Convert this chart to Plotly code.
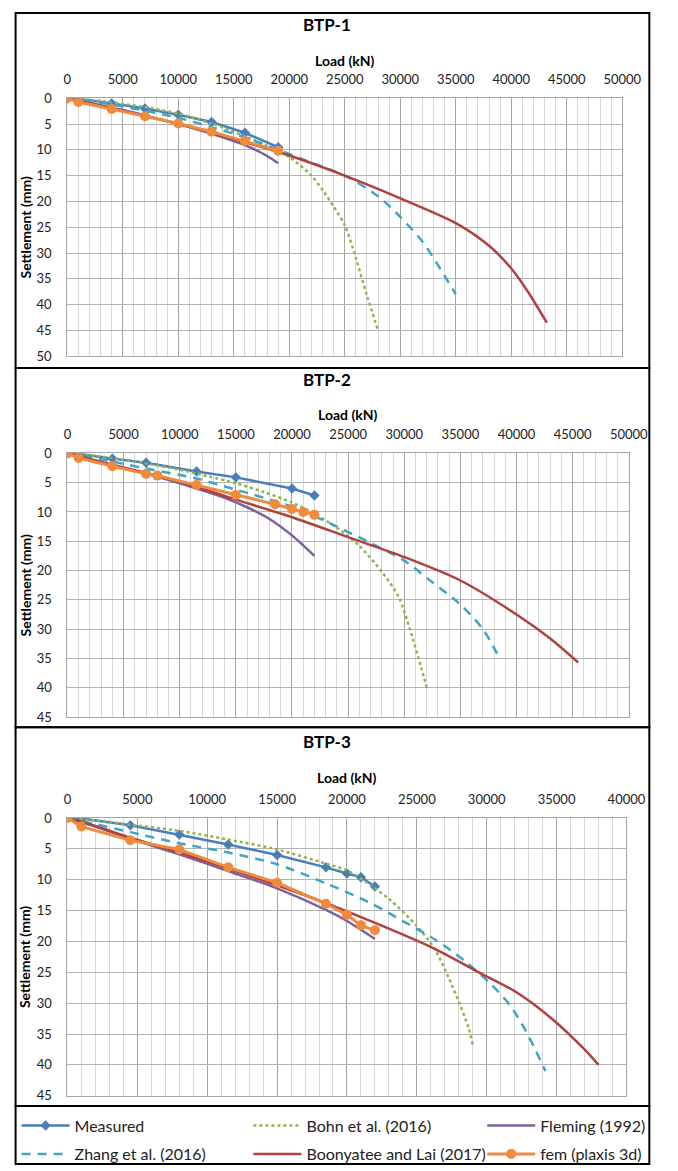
import plotly.graph_objects as go

W, H = 678, 1171
FONT = "Lato"

# ---------------- data ----------------
series_names = ["Measured", "Bohn et al. (2016)", "Fleming (1992)",
                "Zhang et al. (2016)", "Boonyatee and Lai (2017)", "fem (plaxis 3d)"]
panel_titles = ["BTP-1", "BTP-2", "BTP-3"]
x_max = [50000, 50000, 40000]
y_max = [50, 45, 45]

# BTP-1
meas1_x = [0, 1000, 4000, 7000, 10000, 13000, 16000, 19000]
meas1_y = [0, 0.1, 1.0, 2.0, 3.2, 4.6, 6.7, 9.5]
bohn1_x = [0, 2500, 5000, 7500, 10000, 13000, 16000, 18000, 20000, 22000, 23000, 24000, 25000, 26000, 27000, 28000]
bohn1_y = [0, 0.4, 1.1, 1.9, 3.0, 4.9, 7.4, 9.2, 11.4, 15.0, 17.8, 21.0, 24.6, 31.0, 38.3, 45.0]
flem1_x = [0, 2000, 5000, 8000, 11000, 14000, 16000, 18000, 19000]
flem1_y = [0, 0.9, 2.3, 3.9, 5.6, 7.6, 9.1, 11.2, 12.6]
zhang1_x = [0, 2500, 5000, 10000, 13000, 16000, 19000, 22000, 25000, 28000, 30000, 32000, 33500, 35000]
zhang1_y = [0, 0.7, 1.6, 3.8, 5.6, 7.6, 10.0, 12.5, 15.0, 19.0, 23.0, 27.8, 32.7, 38.0]
boon1_x = [0, 5000, 10000, 15000, 20000, 25000, 30000, 35000, 38000, 40000, 41500, 43200]
boon1_y = [0, 2.4, 5.0, 7.9, 11.1, 15.0, 19.4, 24.2, 28.6, 33.0, 37.5, 43.5]
fem1_x = [0, 1000, 4000, 7000, 10000, 13000, 16000, 19000]
fem1_y = [0, 0.75, 2.1, 3.5, 4.9, 6.5, 8.3, 10.2]

# BTP-2
meas2_x = [0, 1000, 4000, 7000, 11500, 15000, 20000, 22000]
meas2_y = [0, 0.1, 0.9, 1.6, 3.1, 4.1, 6.0, 7.2]
bohn2_x = [0, 2500, 5000, 7500, 10000, 12500, 15000, 17500, 20000, 22000, 24000, 26000, 28000, 29500, 30500, 31500, 32000]
bohn2_y = [0, 0.4, 1.1, 1.9, 2.8, 3.9, 5.1, 6.6, 8.4, 10.3, 12.7, 15.8, 20.2, 24.5, 30.0, 36.5, 40.0]
flem2_x = [0, 2000, 4000, 7000, 10000, 12000, 14000, 16000, 18000, 20000, 21000, 22000]
flem2_y = [0, 1.0, 2.1, 3.5, 5.1, 6.3, 7.6, 9.2, 11.2, 14.0, 15.7, 17.5]
zhang2_x = [0, 2000, 5000, 7000, 11500, 15000, 20000, 23000, 27000, 30000, 32500, 35000, 37000, 38500]
zhang2_y = [0, 0.6, 1.8, 2.6, 4.3, 6.2, 9.1, 11.6, 15.3, 18.3, 22.0, 25.8, 30.0, 35.0]
boon2_x = [0, 5000, 10000, 15000, 20000, 25000, 30000, 35000, 40000, 43000, 45500]
boon2_y = [0, 2.4, 4.8, 7.9, 10.9, 14.3, 17.7, 21.7, 27.5, 31.6, 35.7]
fem2_x = [0, 1000, 4000, 7000, 8000, 11500, 15000, 18500, 20000, 21000, 22000]
fem2_y = [0, 0.8, 2.2, 3.5, 3.8, 5.4, 7.1, 8.7, 9.5, 10.0, 10.5]

# BTP-3
meas3_x = [0, 1000, 4500, 8000, 11500, 15000, 18500, 20000, 21000, 22000]
meas3_y = [0, 0.1, 1.2, 2.7, 4.3, 6.0, 8.0, 9.0, 9.6, 11.1]
bohn3_x = [0, 2000, 4500, 8000, 11500, 15000, 18500, 20000, 21700, 23100, 25000, 26300, 27300, 28100, 28700, 29000]
bohn3_y = [0, 0.4, 1.1, 2.1, 3.5, 5.1, 7.4, 8.5, 10.9, 13.3, 17.5, 21.3, 26.0, 30.3, 34.0, 36.7]
flem3_x = [0, 2000, 4500, 8000, 11500, 15000, 18500, 20000, 22000]
flem3_y = [0, 1.4, 3.4, 5.9, 8.6, 11.4, 14.9, 16.7, 19.6]
zhang3_x = [0, 2000, 4500, 8000, 11500, 15000, 18500, 21700, 24000, 26300, 28400, 30250, 31650, 32800, 34200]
zhang3_y = [0, 1.0, 2.3, 4.1, 5.6, 7.5, 10.6, 13.8, 16.7, 19.7, 23.1, 26.8, 30.3, 34.5, 41.0]
boon3_x = [0, 2000, 4500, 8000, 11500, 15000, 18500, 21700, 26100, 29600, 32100, 34600, 37000, 38000]
boon3_y = [0, 1.3, 3.2, 5.6, 8.2, 10.9, 13.8, 16.7, 21.0, 25.2, 28.2, 32.4, 37.5, 40.0]
fem3_x = [0, 1000, 4500, 8000, 11500, 15000, 18500, 20000, 21000, 22000]
fem3_y = [0, 1.4, 3.6, 5.1, 8.0, 10.5, 13.9, 15.7, 17.4, 18.2]

panels_data = [
    [(meas1_x, meas1_y), (bohn1_x, bohn1_y), (flem1_x, flem1_y), (zhang1_x, zhang1_y), (boon1_x, boon1_y), (fem1_x, fem1_y)],
    [(meas2_x, meas2_y), (bohn2_x, bohn2_y), (flem2_x, flem2_y), (zhang2_x, zhang2_y), (boon2_x, boon2_y), (fem2_x, fem2_y)],
    [(meas3_x, meas3_y), (bohn3_x, bohn3_y), (flem3_x, flem3_y), (zhang3_x, zhang3_y), (boon3_x, boon3_y), (fem3_x, fem3_y)],
]

# ---------------- styles ----------------
styles = [
    dict(mode="lines+markers", line=dict(color="#4A7EBB", width=2.5),
         marker=dict(symbol="diamond", size=8, color="#4A7EBB")),
    dict(mode="lines", line=dict(color="#8DB450", width=2.5, dash="dot", shape="spline", smoothing=0.8)),
    dict(mode="lines", line=dict(color="#7D60A0", width=2.5, shape="spline", smoothing=0.8)),
    dict(mode="lines", line=dict(color="#3FA5C3", width=2.5, dash="9px,7px", shape="spline", smoothing=0.8)),
    dict(mode="lines", line=dict(color="#B0413E", width=2.5, shape="spline", smoothing=0.8)),
    dict(mode="lines+markers", line=dict(color="#F08A3C", width=3),
         marker=dict(symbol="circle", size=10, color="#F08A3C")),
]

# pixel geometry of plot areas (left, top, right, bottom)
plot_px = [(65.5, 91.7, 640.0, 354.0), (65.7, 452.7, 646.7, 720.7), (65.7, 823.3, 644.3, 1105.7)]
panel_px = [(12, 5, 668, 366), (12, 366, 668, 731), (12, 731, 668, 1116)]
legend_px = (12, 1116, 668, 1171)
title_y = [17, 378, 746]
load_y = [53, 413, 782]


def fx(p):
    return p / W


def fy(p):
    return 1 - p / H


fig = go.Figure()

for pi, pdata in enumerate(panels_data):
    ax = "" if pi == 0 else str(pi + 1)
    for si, (xs, ys) in enumerate(pdata):
        st = styles[si]
        leg = "legend" if si == 0 else f"legend{si + 1}"
        fig.add_trace(go.Scatter(
            x=xs, y=ys, name=series_names[si], xaxis="x" + ax, yaxis="y" + ax,
            showlegend=(pi == 0), legend=leg, hoverinfo="skip", **st))

layout = dict(
    width=W, height=H, margin=dict(l=0, r=0, t=0, b=0),
    paper_bgcolor="white", plot_bgcolor="white",
    font=dict(family=FONT, size=13, color="#222"),
)

annotations = []
shapes = []
for pi in range(3):
    l, t, r, b = plot_px[pi]
    ax = "" if pi == 0 else str(pi + 1)
    layout["xaxis" + ax] = dict(
        domain=[fx(l), fx(r)], anchor="y" + ax, side="top",
        range=[0, x_max[pi]], tick0=0, dtick=5000,
        showgrid=True, gridcolor="#A6A6A6", gridwidth=1,
        minor=dict(dtick=1000, showgrid=True, gridcolor="#D6D6D6", gridwidth=1),
        showline=True, linecolor="#A6A6A6", linewidth=1, mirror=True,
        zeroline=False, ticks="", ticklabelstandoff=8,
        tickfont=dict(family=FONT, size=13, color="#222"),
        tickformat="d", fixedrange=True,
    )
    layout["yaxis" + ax] = dict(
        domain=[fy(b), fy(t)], anchor="x" + ax,
        range=[y_max[pi], 0], tick0=0, dtick=5,
        showgrid=True, gridcolor="#B3B3B3", gridwidth=1,
        showline=True, linecolor="#A6A6A6", linewidth=1, mirror=True,
        zeroline=False, ticks="", ticklabelstandoff=12,
        tickfont=dict(family=FONT, size=13, color="#222"),
        fixedrange=True,
    )
    pl, pt, pr, pb = panel_px[pi]
    annotations.append(dict(text="<b>" + panel_titles[pi] + "</b>", x=fx(334),
                            y=fy(title_y[pi]), xref="paper", yref="paper",
                            xanchor="center", yanchor="middle", showarrow=False,
                            font=dict(family=FONT, size=17, color="#000")))
    annotations.append(dict(text="<b>Load (kN)</b>", x=fx((l + r) / 2), y=fy(load_y[pi]),
                            xref="paper", yref="paper", xanchor="center", yanchor="middle",
                            showarrow=False, font=dict(family=FONT, size=14, color="#000")))
    annotations.append(dict(text="<b>Settlement (mm)</b>", x=fx(22), y=fy((t + b) / 2),
                            xref="paper", yref="paper", xanchor="center", yanchor="middle",
                            textangle=-90, showarrow=False,
                            font=dict(family=FONT, size=14, color="#000")))
    shapes.append(dict(type="rect", xref="paper", yref="paper",
                       x0=fx(pl), x1=fx(pr), y0=fy(pb), y1=fy(pt),
                       line=dict(color="#000", width=2), fillcolor="rgba(0,0,0,0)", layer="above"))

ll, lt, lr, lb = legend_px
shapes.append(dict(type="rect", xref="paper", yref="paper",
                   x0=fx(ll), x1=fx(lr), y0=fy(lb + 4), y1=fy(lt),
                   line=dict(color="#000", width=2), fillcolor="rgba(0,0,0,0)", layer="above"))

# legend item positions (px): symbol left edges, row centres
leg_pos = [(13, 1136), (253, 1136), (495, 1136), (13, 1165), (253, 1165), (495, 1165)]
for si, (lx, ly) in enumerate(leg_pos):
    key = "legend" if si == 0 else f"legend{si + 1}"
    layout[key] = dict(x=fx(lx), y=fy(ly), xanchor="left", yanchor="middle",
                       orientation="h", bgcolor="rgba(0,0,0,0)", borderwidth=0,
                       itemwidth=48, font=dict(family=FONT, size=16, color="#222"))

layout["annotations"] = annotations
layout["shapes"] = shapes
fig.update_layout(**layout)

fig.write_html("out.html")
